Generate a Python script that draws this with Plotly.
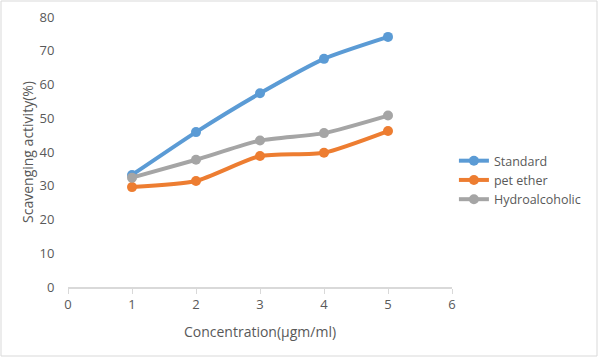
import plotly.graph_objects as go

conc = [1, 2, 3, 4, 5]
standard = [33.2, 45.9, 57.4, 67.6, 74.1]
pet_ether = [29.6, 31.4, 38.8, 39.8, 46.2]
hydro = [32.4, 37.7, 43.4, 45.6, 50.8]
names = ["Standard", "pet ether", "Hydroalcoholic"]
colors = ["#5B9BD5", "#ED7D31", "#A5A5A5"]

fig = go.Figure()
for name, vals, c in zip(names, [standard, pet_ether, hydro], colors):
    fig.add_trace(go.Scatter(x=conc, y=vals, name=name, mode="lines+markers",
                             line=dict(color=c, width=4, shape="spline", smoothing=0.6),
                             marker=dict(color=c, size=10)))

fnt = "Open Sans, Liberation Sans, sans-serif"
fig.update_layout(
    width=600, height=357,
    margin=dict(l=68, r=148, t=17, b=70),
    paper_bgcolor="white", plot_bgcolor="white",
    font=dict(family=fnt, color="#595959", size=12),
    showlegend=True,
    legend=dict(x=1.005, y=0.522, xanchor="left", yanchor="top",
                font=dict(size=12.5, color="#595959"), itemwidth=30, tracegroupgap=0),
    xaxis=dict(range=[0, 6], tickvals=[0, 1, 2, 3, 4, 5, 6], showgrid=False, zeroline=False,
               automargin=False,
               showline=True, linecolor="#D9D9D9", linewidth=1.5, ticks="outside", ticklen=5,
               tickcolor="#D9D9D9", tickfont=dict(size=13, color="#595959"),
               title=dict(text="Concentration(µgm/ml)", font=dict(size=14, color="#595959"), standoff=15)),
    yaxis=dict(range=[0, 80], tickvals=[0, 10, 20, 30, 40, 50, 60, 70, 80], showgrid=False,
               automargin=False,
               zeroline=False, showline=False, ticks="outside", ticklen=10, tickcolor="rgba(0,0,0,0)",
               tickfont=dict(size=13, color="#595959"),
               title=dict(text="Scavenging activity(%)", font=dict(size=14, color="#595959"), standoff=2)),
)
fig.add_shape(type="rect", xref="paper", yref="paper", x0=-67/384, x1=1+145/384,
              y0=-69/270, y1=1+16/270, line=dict(color="#D9D9D9", width=1))
fig.write_html("out.html", config={"displayModeBar": False},
               post_script="document.body.style.margin='0';")
